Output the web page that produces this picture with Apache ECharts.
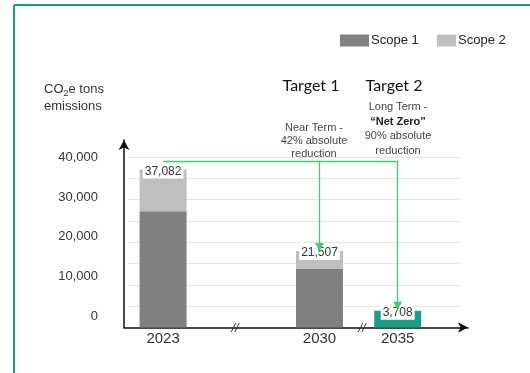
<!DOCTYPE html>
<html>
<head>
<meta charset="utf-8">
<script src="https://cdn.jsdelivr.net/npm/echarts@6/dist/echarts.min.js"></script>
<style>
html,body{margin:0;padding:0;background:#fff;}
#chart{width:530px;height:373px;}
</style>
</head>
<body>
<div id="chart"></div>
<script>
// ---- data ----
var categories = ['2023', '', '2030', '2035'];
var scope1 = [27300, '-', 13700, '-'];
var scope2 = [9780, '-', 4250, '-'];
var netZeroTarget = ['-', '-', '-', 3940];
var totalLabels = ['37,082', '', '21,507', '3,708'];
var yTickLabels = [0, 10000, 20000, 30000, 40000];
var legendNames = ['Scope 1', 'Scope 2'];

var chart = echarts.init(document.getElementById('chart'), null, {renderer: 'canvas'});
var FONT = '"Liberation Sans", Arial, sans-serif';

function totalLabel(p) { return totalLabels[p.dataIndex]; }
var labelStyle = {
  show: true, position: 'top', distance: -9,
  formatter: totalLabel, fontFamily: FONT, fontSize: 12, color: '#333',
  backgroundColor: '#fff', padding: [1, 2, 1, 2]
};
var green = '#3fcf72';
var arrowGreen = '#1fb14f';

var option = {
  animation: false,
  backgroundColor: '#fff',
  title: {
    text: 'CO{sub|2}e tons\nemissions',
    left: 44, top: 81, padding: 0,
    textStyle: {
      fontFamily: FONT, fontSize: 13, fontWeight: 'normal', color: '#333', lineHeight: 17,
      rich: { sub: { fontSize: 9, verticalAlign: 'bottom', lineHeight: 12, color: '#333', fontFamily: FONT } }
    }
  },
  legend: [
    { data: [legendNames[0]], left: 340, top: 34, padding: 0, itemWidth: 29, itemHeight: 12, itemGap: 0,
      icon: 'rect', textStyle: { fontFamily: FONT, fontSize: 13, color: '#222', padding: [0, 0, 0, -3] } },
    { data: [legendNames[1]], left: 437, top: 34, padding: 0, itemWidth: 19, itemHeight: 12, itemGap: 0,
      icon: 'rect', textStyle: { fontFamily: FONT, fontSize: 13, color: '#222', padding: [0, 0, 0, -3] } }
  ],
  grid: [
    { left: 124, right: 62, top: 140, bottom: 45.5 },          // axis lines with arrows
    { left: 124, width: 312.8, top: 157, bottom: 45.5 },       // bars
    { left: 128, right: 70, top: 157, bottom: 45.5 },          // gridlines
    { left: 124, right: 62, top: 157.2, bottom: 56.6 }         // y labels
  ],
  xAxis: [
    { gridIndex: 0, type: 'value', min: 0, max: 1, axisLabel: {show: false}, axisTick: {show: false},
      splitLine: {show: false},
      axisLine: { onZero: false, symbol: ['none', 'arrow'], symbolSize: [8, 10], lineStyle: {color: '#111', width: 1.5} } },
    { gridIndex: 1, type: 'category', data: categories, axisLine: {show: false}, axisTick: {show: false},
      axisLabel: { fontFamily: FONT, fontSize: 15, color: '#333', margin: 4, interval: 0 } },
    { gridIndex: 2, type: 'value', show: false, min: 0, max: 1 },
    { gridIndex: 3, type: 'value', show: false, min: 0, max: 1 }
  ],
  yAxis: [
    { gridIndex: 0, type: 'value', min: 0, max: 1, axisLabel: {show: false}, axisTick: {show: false},
      splitLine: {show: false},
      axisLine: { show: true, onZero: false, symbol: ['none', 'arrow'], symbolSize: [8, 10], lineStyle: {color: '#111', width: 1.5} } },
    { gridIndex: 1, type: 'value', min: 0, max: 40000, show: false },
    { gridIndex: 2, type: 'value', min: 0, max: 40000, interval: 5000,
      axisLine: {show: false}, axisTick: {show: false}, axisLabel: {show: false},
      splitLine: { show: true, lineStyle: { color: '#e4e4e4', width: 1 } } },
    { gridIndex: 3, type: 'value', min: yTickLabels[0], max: yTickLabels[yTickLabels.length - 1], interval: 10000,
      axisLine: {show: false}, axisTick: {show: false}, splitLine: {show: false},
      axisLabel: { fontFamily: FONT, fontSize: 13, color: '#333', margin: 26 } }
  ],
  series: [
    { name: legendNames[0], type: 'bar', xAxisIndex: 1, yAxisIndex: 1, stack: 'total', barWidth: 47,
      data: scope1, itemStyle: { color: '#808080' } },
    { name: legendNames[1], type: 'bar', xAxisIndex: 1, yAxisIndex: 1, stack: 'total', barWidth: 47,
      data: scope2, itemStyle: { color: '#bfbfbf' }, label: labelStyle,
      markLine: {
        silent: true, animation: false, label: {show: false},
        lineStyle: { color: green, width: 1.3, type: 'solid', opacity: 1 },
        symbol: ['none', 'none'],
        data: [
          [ {coord: ['2023', 39000], lineStyle: {color: green, width: 1.3, type: 'solid'}}, {coord: ['2035', 39000]} ],
          [ {coord: ['2030', 39000], symbol: 'none', lineStyle: {color: green, width: 1.3, type: 'solid'}}, {coord: ['2030', 18900], symbol: 'triangle', symbolSize: [9, 8], itemStyle: {color: arrowGreen}} ],
          [ {coord: ['2035', 39000], symbol: 'none', lineStyle: {color: green, width: 1.3, type: 'solid'}}, {coord: ['2035', 5100], symbol: 'triangle', symbolSize: [9, 8], itemStyle: {color: arrowGreen}} ]
        ]
      } },
    { name: 'Net Zero', type: 'bar', xAxisIndex: 1, yAxisIndex: 1, stack: 'total', barWidth: 47,
      data: netZeroTarget, itemStyle: { color: '#1b9e85' }, label: labelStyle }
  ],
  graphic: [
    { type: 'line', shape: {x1: 14, y1: 5, x2: 14, y2: 373}, style: {stroke: '#1a9a80', lineWidth: 2} },
    { type: 'line', shape: {x1: 14, y1: 5, x2: 530, y2: 5}, style: {stroke: '#1a9a80', lineWidth: 2} },
    { type: 'text', x: 311, y: 86, style: { text: 'Target 1', font: '16px Lato, Carlito, sans-serif', fill: '#111', align: 'center', verticalAlign: 'middle' } },
    { type: 'text', x: 394, y: 86, style: { text: 'Target 2', font: '16px Lato, Carlito, sans-serif', fill: '#111', align: 'center', verticalAlign: 'middle' } },
    { type: 'text', x: 314, y: 141, style: { text: 'Near Term -\n42% absolute\nreduction', font: '11px ' + FONT, fill: '#444', align: 'center', verticalAlign: 'middle', lineHeight: 13 } },
    { type: 'text', x: 398, y: 129, style: {
        text: '{n|Long Term -}\n{b|\u201cNet Zero\u201d}\n{n|90% absolute}\n{n|reduction}',
        align: 'center', verticalAlign: 'middle',
        rich: { n: { font: '11px ' + FONT, fill: '#444', lineHeight: 14.5 }, b: { font: 'bold 11px ' + FONT, fill: '#222', lineHeight: 14.5 } } } },
    { type: 'text', x: 235, y: 328, style: { text: '//', font: 'italic 13px ' + FONT, fill: '#333', align: 'center', verticalAlign: 'middle' } },
    { type: 'text', x: 362, y: 328, style: { text: '//', font: 'italic 13px ' + FONT, fill: '#333', align: 'center', verticalAlign: 'middle' } }
  ]
};
chart.setOption(option);
</script>
</body>
</html>
